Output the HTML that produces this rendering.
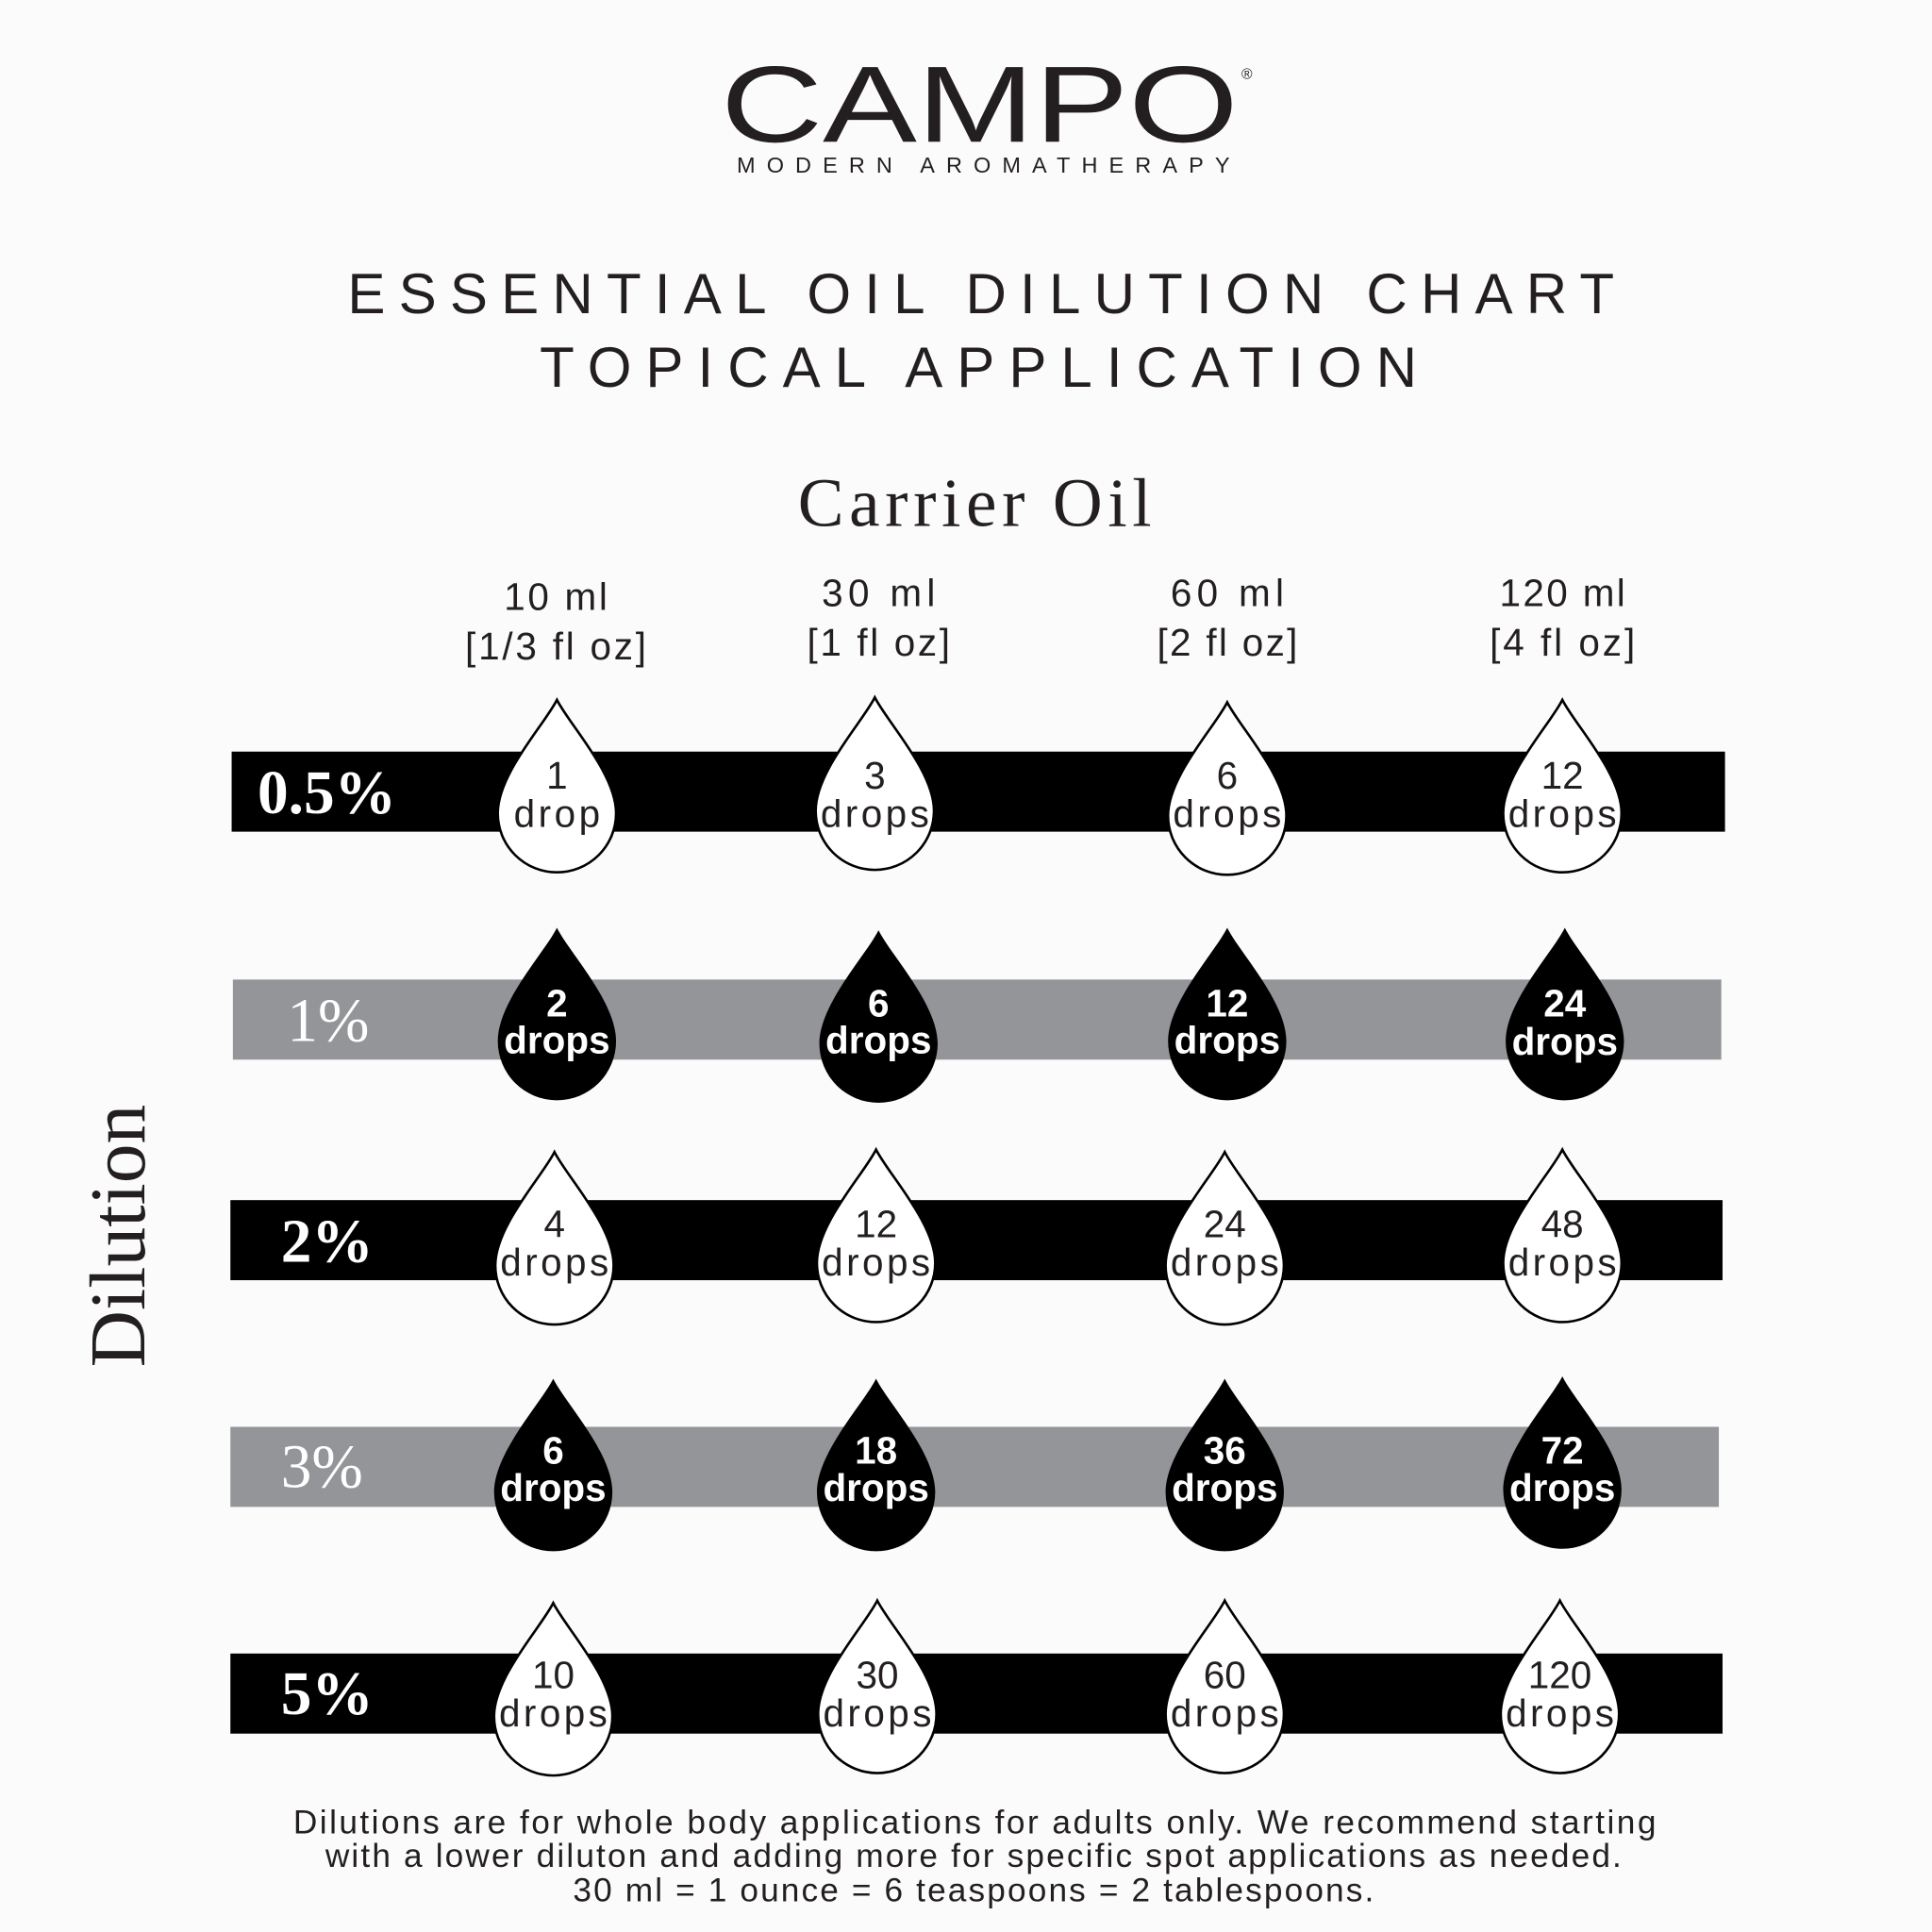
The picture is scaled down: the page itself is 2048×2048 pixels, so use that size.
<!DOCTYPE html>
<html><head><meta charset="utf-8"><style>
html,body{margin:0;padding:0;background:#fbfbfb;}
svg{display:block;width:2048px;height:2048px;}
.sans{font-family:"Liberation Sans","DejaVu Sans",sans-serif;}
.serif{font-family:"Liberation Serif","DejaVu Serif",serif;}
</style></head><body>
<svg viewBox="0 0 1568 1568" xmlns="http://www.w3.org/2000/svg">
<defs>
<path id="d" d="M0,-92 C10,-72 48,-32 48,0 A48,48 0 1 1 -48,0 C-48,-32 -10,-72 0,-92 Z"/>
</defs>
<rect width="1568" height="1568" fill="#fbfbfb"/>
<g class="sans" fill="#231f20" text-anchor="middle">
<text x="795" y="115" font-size="88" textLength="420" lengthAdjust="spacingAndGlyphs">CAMPO</text>
<text x="1012" y="64" font-size="12">®</text>
<text x="798" y="140" font-size="18" textLength="400" lengthAdjust="spacing">MODERN AROMATHERAPY</text>
<text x="796" y="254" font-size="46" textLength="1028" lengthAdjust="spacing">ESSENTIAL OIL DILUTION CHART</text>
<text x="794" y="314" font-size="46" textLength="712" lengthAdjust="spacing">TOPICAL APPLICATION</text>
</g>
<text class="serif" x="791" y="427" font-size="56" text-anchor="middle" fill="#231f20" textLength="287" lengthAdjust="spacing">Carrier Oil</text>
<g class="sans" font-size="31" fill="#231f20" text-anchor="middle">
<text x="451" y="495" textLength="84" lengthAdjust="spacing">10 ml</text><text x="451" y="535" textLength="147" lengthAdjust="spacing">[1/3 fl oz]</text>
<text x="713" y="492" textLength="92" lengthAdjust="spacing">30 ml</text><text x="713" y="532" textLength="116" lengthAdjust="spacing">[1  fl oz]</text>
<text x="996" y="492" textLength="92" lengthAdjust="spacing">60 ml</text><text x="996" y="532" textLength="114" lengthAdjust="spacing">[2 fl oz]</text>
<text x="1268" y="492" textLength="102" lengthAdjust="spacing">120 ml</text><text x="1268" y="532" textLength="118" lengthAdjust="spacing">[4 fl oz]</text>
</g>
<text class="serif" transform="translate(117,1003) rotate(-90)" font-size="64" text-anchor="middle" fill="#231f20">Dilution</text>
<rect x="188" y="610" width="1212" height="65" fill="#000"/>
<rect x="189" y="795" width="1208" height="65" fill="#939598"/>
<rect x="187" y="974" width="1211" height="65" fill="#000"/>
<rect x="187" y="1158" width="1208" height="65" fill="#939598"/>
<rect x="187" y="1342" width="1211" height="65" fill="#000"/>
<g class="serif" font-weight="bold" font-size="50" fill="#fff">
<text x="209" y="660">0.5%</text>
<text x="233" y="845" font-weight="normal">1%</text>
<text x="228" y="1024">2%</text>
<text x="228" y="1207" font-weight="normal">3%</text>
<text x="228" y="1391">5%</text>
</g>
<g class="sans" font-size="31" text-anchor="middle">
<g fill="#fff" stroke="#000" stroke-width="2">
<use href="#d" x="452" y="660"/><use href="#d" x="710" y="658"/><use href="#d" x="996" y="662"/><use href="#d" x="1268" y="660"/>
<use href="#d" x="450" y="1027"/><use href="#d" x="711" y="1025"/><use href="#d" x="994" y="1027"/><use href="#d" x="1268" y="1025"/>
<use href="#d" x="449" y="1393"/><use href="#d" x="712" y="1391"/><use href="#d" x="994" y="1391"/><use href="#d" x="1266" y="1391"/>
</g>
<g fill="#000">
<use href="#d" x="452" y="845"/><use href="#d" x="713" y="847"/><use href="#d" x="996" y="845"/><use href="#d" x="1270" y="845"/>
<use href="#d" x="449" y="1211"/><use href="#d" x="711" y="1211"/><use href="#d" x="994" y="1211"/><use href="#d" x="1268" y="1209"/>
</g>
<g fill="#231f20">
<text x="452" y="640">1</text><text x="452" y="671" textLength="70" lengthAdjust="spacing">drop</text>
<text x="710" y="640">3</text><text x="710" y="671" textLength="88" lengthAdjust="spacing">drops</text>
<text x="996" y="640">6</text><text x="996" y="671" textLength="88" lengthAdjust="spacing">drops</text>
<text x="1268" y="640">12</text><text x="1268" y="671" textLength="88" lengthAdjust="spacing">drops</text>
<text x="450" y="1004">4</text><text x="450" y="1035" textLength="88" lengthAdjust="spacing">drops</text>
<text x="711" y="1004">12</text><text x="711" y="1035" textLength="88" lengthAdjust="spacing">drops</text>
<text x="994" y="1004">24</text><text x="994" y="1035" textLength="88" lengthAdjust="spacing">drops</text>
<text x="1268" y="1004">48</text><text x="1268" y="1035" textLength="88" lengthAdjust="spacing">drops</text>
<text x="449" y="1370">10</text><text x="449" y="1401" textLength="88" lengthAdjust="spacing">drops</text>
<text x="712" y="1370">30</text><text x="712" y="1401" textLength="88" lengthAdjust="spacing">drops</text>
<text x="994" y="1370">60</text><text x="994" y="1401" textLength="88" lengthAdjust="spacing">drops</text>
<text x="1266" y="1370">120</text><text x="1266" y="1401" textLength="88" lengthAdjust="spacing">drops</text>
</g>
<g fill="#fff" font-weight="bold">
<text x="452" y="825">2</text><text x="452" y="855">drops</text>
<text x="713" y="825">6</text><text x="713" y="855">drops</text>
<text x="996" y="825">12</text><text x="996" y="855">drops</text>
<text x="1270" y="825">24</text><text x="1270" y="856">drops</text>
<text x="449" y="1188">6</text><text x="449" y="1218">drops</text>
<text x="711" y="1188">18</text><text x="711" y="1218">drops</text>
<text x="994" y="1188">36</text><text x="994" y="1218">drops</text>
<text x="1268" y="1188">72</text><text x="1268" y="1218">drops</text>
</g>
</g>
<g class="sans" font-size="27" fill="#231f20" text-anchor="middle">
<text x="791" y="1488" textLength="1106" lengthAdjust="spacing">Dilutions are for whole body  applications for adults only.  We recommend starting</text>
<text x="790" y="1515" textLength="1052" lengthAdjust="spacing">with a lower diluton and adding more for specific spot applications as needed.</text>
<text x="790" y="1543" textLength="650" lengthAdjust="spacing">30 ml = 1 ounce = 6 teaspoons = 2 tablespoons.</text>
</g>
</svg>
</body></html>
